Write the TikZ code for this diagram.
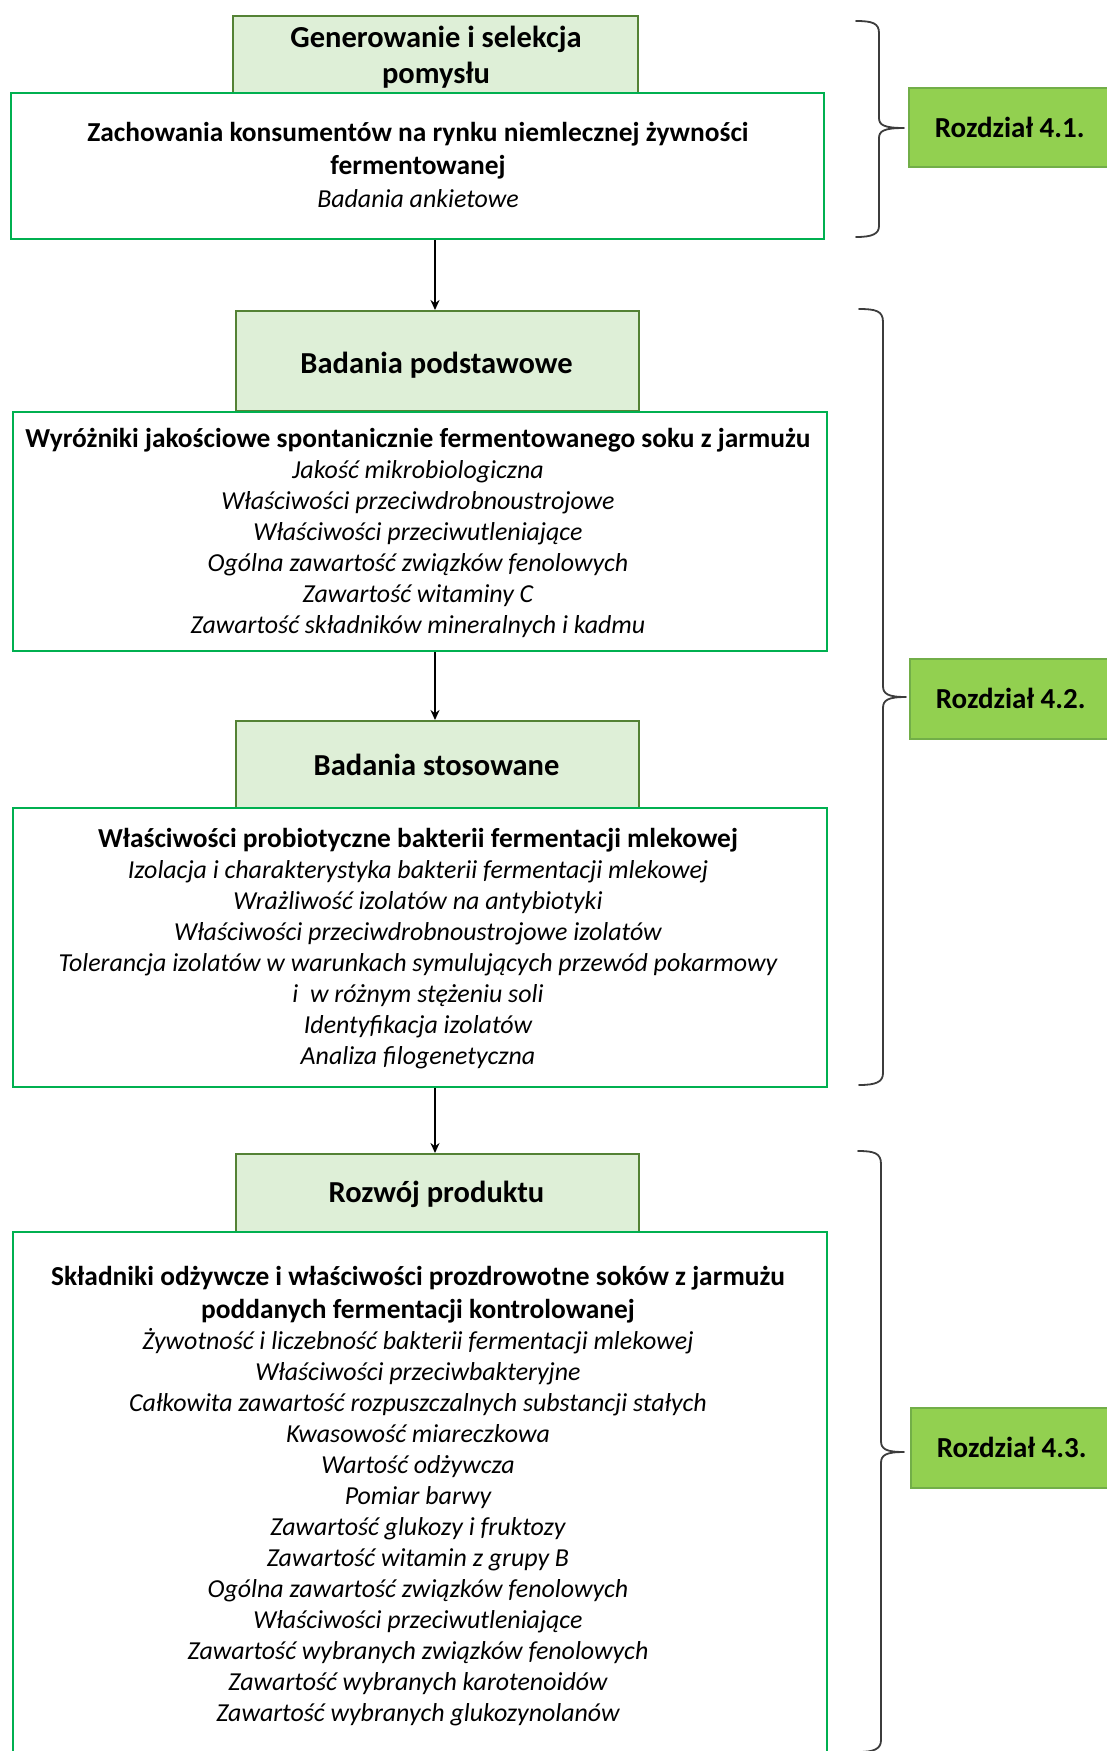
\documentclass[tikz,border=0pt]{standalone}
\usepackage{fontspec}
\setmainfont{Carlito}
\usetikzlibrary{arrows.meta}

\definecolor{hdrfill}{HTML}{DEEFD7}
\definecolor{hdrline}{HTML}{548235}
\definecolor{panelline}{HTML}{00B050}
\definecolor{tagfill}{HTML}{92D050}
\definecolor{tagline}{HTML}{72AE48}
\definecolor{bracecol}{HTML}{3C3C3C}

% line styles inside the panels
\newcommand\leadline[1]{{\fontsize{27.4}{31}\selectfont\bfseries #1}}
\newcommand\topicline[1]{{\fontsize{25.9}{31}\selectfont\itshape #1}}

\begin{document}
\begin{tikzpicture}[x=1pt,y=-1pt,
  header/.style={draw=hdrline, fill=hdrfill, line width=2.2pt, inner sep=0pt, anchor=north west},
  panel/.style={draw=panelline, fill=white, line width=2.4pt, inner sep=0pt, anchor=north west},
  tag/.style={draw=tagline, fill=tagfill, line width=1.5pt, inner sep=0pt, anchor=north west,
    font=\fontsize{29}{32}\selectfont\bfseries},
  hdrtext/.style={align=center, inner sep=0pt, font=\fontsize{30.5}{36}\selectfont\bfseries},
  bodytext/.style={align=center, inner sep=0pt, font=\fontsize{25.9}{31}\selectfont},
  flow/.style={line width=2pt, -{Stealth[length=10pt,width=9pt]}},
  brace/.style={draw=bracecol, line width=1.8pt, line cap=round, line join=round}
]
\useasboundingbox (0,0) rectangle (1106,1751);

% ---- headers (drawn first, panels overlap their lower edges)
\node[header, minimum width=405pt, minimum height=77pt] (h1) at (232,15) {};
\node[header, minimum width=403pt, minimum height=100pt] (h2) at (235,310) {};
\node[header, minimum width=403pt, minimum height=87pt] (h3) at (235,720) {};
\node[header, minimum width=403pt, minimum height=78pt] (h4) at (235,1153) {};

% ---- content panels
\node[panel, minimum width=813pt, minimum height=146pt] (p1) at (10,92) {};
\node[panel, minimum width=814pt, minimum height=239pt] (p2) at (12,411) {};
\node[panel, minimum width=814pt, minimum height=279pt] (p3) at (12,807) {};
\node[panel, minimum width=814pt, minimum height=560pt] (p4) at (12,1231) {};

% ---- header captions
\node[hdrtext] (h1t) at (436,57.5) {Generowanie i selekcja\\pomysłu};
\node[hdrtext] (h2t) at (436.5,365) {Badania podstawowe};
\node[hdrtext] (h3t) at (436.5,765) {Badania stosowane};
\node[hdrtext] (h4t) at (436.5,1194) {Rozwój produktu};

% ---- panel contents
\node[bodytext, font=\fontsize{25.9}{33}\selectfont] (p1t) at (418,165)
  {\leadline{Zachowania konsumentów na rynku niemlecznej żywności}\\
   \leadline{fermentowanej}\\
   \topicline{Badania ankietowe}};

\node[bodytext] (p2t) at (418,532.5)
  {\leadline{Wyróżniki jakościowe spontanicznie fermentowanego soku z jarmużu}\\
   \topicline{Jakość mikrobiologiczna}\\
   \topicline{Właściwości przeciwdrobnoustrojowe}\\
   \topicline{Właściwości przeciwutleniające}\\
   \topicline{Ogólna zawartość związków fenolowych}\\
   \topicline{Zawartość witaminy C}\\
   \topicline{Zawartość składników mineralnych i kadmu}};

\node[bodytext] (p3t) at (418,949)
  {\leadline{Właściwości probiotyczne bakterii fermentacji mlekowej}\\
   \topicline{Izolacja i charakterystyka bakterii fermentacji mlekowej}\\
   \topicline{Wrażliwość izolatów na antybiotyki}\\
   \topicline{Właściwości przeciwdrobnoustrojowe izolatów}\\
   \topicline{Tolerancja izolatów w warunkach symulujących przewód pokarmowy}\\
   \topicline{i~ w różnym stężeniu soli}\\
   \topicline{Identyfikacja izolatów}\\
   \topicline{Analiza filogenetyczna}};

\node[bodytext] (p4t) at (418,1496)
  {\leadline{Składniki odżywcze i właściwości prozdrowotne soków z jarmużu}\\[2.5pt]
   \leadline{poddanych fermentacji kontrolowanej}\\
   \topicline{Żywotność i liczebność bakterii fermentacji mlekowej}\\
   \topicline{Właściwości przeciwbakteryjne}\\
   \topicline{Całkowita zawartość rozpuszczalnych substancji stałych}\\
   \topicline{Kwasowość miareczkowa}\\
   \topicline{Wartość odżywcza}\\
   \topicline{Pomiar barwy}\\
   \topicline{Zawartość glukozy i fruktozy}\\
   \topicline{Zawartość witamin z grupy B}\\
   \topicline{Ogólna zawartość związków fenolowych}\\
   \topicline{Właściwości przeciwutleniające}\\
   \topicline{Zawartość wybranych związków fenolowych}\\
   \topicline{Zawartość wybranych karotenoidów}\\
   \topicline{Zawartość wybranych glukozynolanów}};

% ---- chapter tags
\node[tag, minimum width=206pt, minimum height=79pt] (t1) at (908,87) {\hspace*{-4pt}Rozdział 4.1.};
\node[tag, minimum width=206pt, minimum height=80pt] (t2) at (909,658) {\hspace*{-4pt}Rozdział 4.2.};
\node[tag, minimum width=206pt, minimum height=80pt] (t3) at (910,1407) {\hspace*{-4pt}Rozdział 4.3.};

% ---- flow arrows
\draw[flow] (p1.south -| 435,0) -- (h2.north -| 435,0);
\draw[flow] (p2.south -| 435,0) -- (h3.north -| 435,0);
\draw[flow] (p3.south -| 435,0) -- (h4.north -| 435,0);

% ---- braces grouping the stages into chapters
\coordinate (b1top) at (856,21);
\coordinate (b1bot) at (856,237);
\coordinate (b1tip) at (904,128);
\draw[brace] (b1top) .. controls (872,21) and (879,23) .. (879,33)
  -- (879,118) .. controls (879,125) and (884,128) .. (b1tip)
  .. controls (884,128) and (879,131) .. (879,138)
  -- (879,226) .. controls (879,234) and (872,237) .. (b1bot);

\coordinate (b2top) at (859,309);
\coordinate (b2bot) at (859,1085);
\coordinate (b2tip) at (906,697);
\draw[brace] (b2top) .. controls (876,309) and (883,311) .. (883,322)
  -- (883,686) .. controls (883,694) and (888,697) .. (b2tip)
  .. controls (888,697) and (883,700) .. (883,708)
  -- (883,1073) .. controls (883,1082) and (876,1085) .. (b2bot);

\coordinate (b3top) at (858,1151);
\coordinate (b3bot) at (858,1752);
\coordinate (b3tip) at (904,1452);
\draw[brace] (b3top) .. controls (874,1151) and (881,1153) .. (881,1164)
  -- (881,1441) .. controls (881,1449) and (886,1452) .. (b3tip)
  .. controls (886,1452) and (881,1455) .. (881,1463)
  -- (881,1740) .. controls (881,1749) and (874,1752) .. (b3bot);
\end{tikzpicture}
\end{document}
